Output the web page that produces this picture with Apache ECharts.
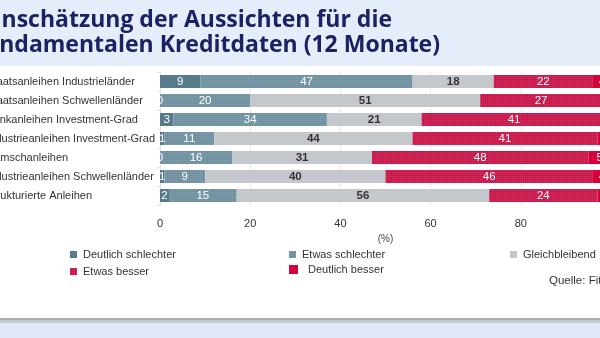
<!DOCTYPE html>
<html><head><meta charset="utf-8">
<script src="https://cdn.jsdelivr.net/npm/echarts@6/dist/echarts.min.js"></script>
<style>html,body{margin:0;padding:0;background:#fff;overflow:hidden}#c{width:600px;height:338px}</style>
</head><body><div id="c"></div>
<script>
const categories = ["Staatsanleihen Industrieländer","Staatsanleihen Schwellenländer","Bankanleihen Investment-Grad","Industrieanleihen Investment-Grad","Ramschanleihen","Industrieanleihen Schwellenländer","Strukturierte Anleihen"];
const seriesNames = ["Deutlich schlechter","Etwas schlechter","Gleichbleibend","Etwas besser","Deutlich besser"];
const deutlichSchlechter = [9,0,3,1,0,1,2];
const etwasSchlechter = [47,20,34,11,16,9,15];
const gleichbleibend = [18,51,21,44,31,40,56];
const etwasBesser = [22,27,41,41,48,46,24];
const deutlichBesser = [4,2,1,3,5,4,3];
const xTicks = [0,20,40,60,80,100];
const titleLines = ["Einschätzung der Aussichten für die","fundamentalen Kreditdaten (12 Monate)"];
const sourceText = "Quelle: Fitch Ratings";

const colors = ["#587b8c","#7091a0","#c4c7cc","#c8184c","#d6003b"];
const labelColors = ["#fff","#fff","#333","#fff","#fff"];
const values = [deutlichSchlechter,etwasSchlechter,gleichbleibend,etwasBesser,deutlichBesser];
const hatch = {symbol:'rect',symbolSize:1,dashArrayX:[1,1],dashArrayY:[1,1],color:'rgba(255,255,255,0.14)',rotation:0};

const font = '"Liberation Sans", Arial, sans-serif';
// left-aligned category labels whose longest entry ends at x=155
const cv = document.createElement('canvas').getContext('2d');
cv.font = '11px "Liberation Sans"';
const longest = cv.measureText("Industrieanleihen Investment-Grad").width;
const gridLeft = 160;
const labelStart = 155 - longest;

const chart = echarts.init(document.getElementById('c'));
const series = values.map((v,i)=>{
  const itemStyle = {color:colors[i]};
  if (i===1||i===3) itemStyle.decal = hatch;
  return {
    name: seriesNames[i], type:'bar', stack:'s', data:v, barWidth:13,
    itemStyle: itemStyle,
    label:{show:true, position:'inside', color:labelColors[i], fontSize:11.5, fontFamily:font, fontWeight: i===2?'bold':'normal'},
    emphasis:{disabled:true}
  };
});
const legendPos = [[70,249],[289,249],[510,249],[70,266],[289,264]];
chart.setOption({
  animation:false,
  textStyle:{fontFamily:font},
  grid:{left:gridLeft, top:72, width:451, height:133, containLabel:false, outerBoundsMode:'none'},
  xAxis:{type:'value', min:0, max:100, interval:20,
    axisLine:{show:false}, axisTick:{show:false},
    splitLine:{lineStyle:{color:'#e8e8e8'}},
    axisLabel:{color:'#333', fontSize:11, margin:13, fontFamily:font, formatter:v=>xTicks.includes(v)?String(v):''},
    name:'(%)', nameLocation:'middle', nameGap:29, nameTextStyle:{color:'#444', fontSize:10, fontFamily:font}},
  yAxis:{type:'category', data:categories, inverse:true,
    axisLine:{lineStyle:{color:'#e2e2e2'}}, axisTick:{show:true, length:3, lineStyle:{color:'#e2e2e2'}},
    axisLabel:{align:'left', margin:gridLeft - labelStart, color:'#333', fontSize:11, fontFamily:font}},
  legend: seriesNames.map((n,i)=>({data:[n], left:legendPos[i][0], top:legendPos[i][1], icon:'rect', itemWidth:i===4?9:7, itemHeight:i===4?9:7, itemGap:0,
    textStyle:{color:'#333', fontSize:11, fontFamily:font, padding:[i===4?3:0,0,0,i===4?5:1]}, selectedMode:false, padding:0})),
  graphic:[
    {type:'rect', z:-10, shape:{x:0,y:0,width:600,height:66}, style:{fill:'#e5ecfa'}},
    {type:'rect', z:-10, shape:{x:0,y:318,width:600,height:20}, style:{fill:'#dfe7f8'}},
    {type:'rect', z:-9, shape:{x:0,y:318,width:600,height:2}, style:{fill:'#a9acb3'}},
    {type:'rect', z:-9, shape:{x:0,y:320,width:600,height:3}, style:{fill:'#c3c8d2'}},
    {type:'text', z:5, style:{x:392, y:20, text:titleLines[0], textAlign:'right', textVerticalAlign:'middle', fill:'#1b2263', font:'bold 23px "Open Sans", sans-serif'}},
    {type:'text', z:5, style:{x:440, y:45, text:titleLines[1], textAlign:'right', textVerticalAlign:'middle', fill:'#1b2263', font:'bold 23px "Open Sans", sans-serif'}},
    {type:'text', z:5, style:{x:549, y:281, text:sourceText, textVerticalAlign:'middle', fill:'#333', font:'11.5px "Liberation Sans", sans-serif'}}
  ],
  series: series
});
</script></body></html>
